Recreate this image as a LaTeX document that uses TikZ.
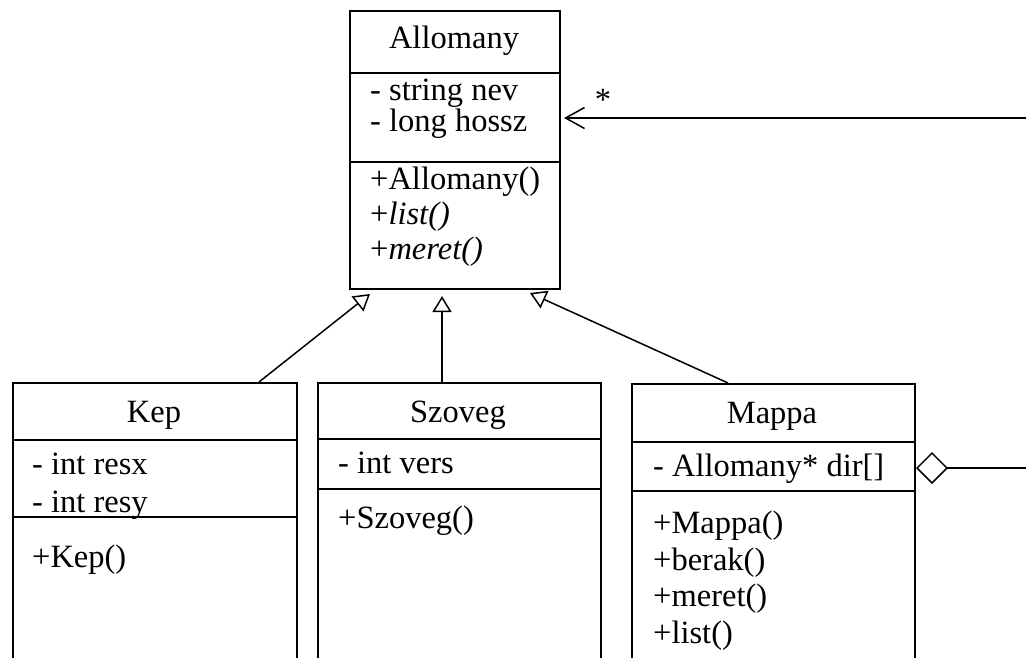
\documentclass[tikz,border=0pt]{standalone}
\usepackage{fontspec}
\setmainfont{Liberation Serif}
\usetikzlibrary{arrows.meta}
\begin{document}
\begin{tikzpicture}[x=1pt,y=-1pt,
  box/.style={draw, line width=1.5pt, inner sep=0pt, anchor=north west},
  divider/.style={line width=1.5pt},
  txt/.style={anchor=base west, inner sep=0pt, font=\fontsize{32.5}{38}\selectfont},
  ttl/.style={anchor=base, inner sep=0pt, font=\fontsize{32.5}{38}\selectfont},
  conn/.style={line width=1.5pt},
  inh/.style={conn, -{Triangle[open, length=16pt, width=19pt, line width=1.5pt]}},
  assoc/.style={conn, -{Straight Barb[length=19pt, width=21pt, line width=1.5pt]}},
  aggr/.style={conn, {Diamond[open, length=32pt, width=32pt, line width=1.5pt]}-}
]
\useasboundingbox (0,0) rectangle (1026,657);
\clip (0,0) rectangle (1026,657);

% ---------- Allomany ----------
\node[box, minimum width=210pt, minimum height=278pt] (allomany) at (349,10) {};
\draw[divider] (349,73) -- (559,73);
\draw[divider] (349,162) -- (559,162);
\node[ttl] (allomanyT) at (454,48) {Allomany};
\node[txt, text depth=0pt] (a1) at (370,100) {- string nev};
\node[txt] (a2) at (370,131) {- long hossz};
\node[txt] (a3) at (370,189) {+Allomany()};
\node[txt] (a4) at (370,224) {+\textit{list()}};
\node[txt] (a5) at (370,259) {+\textit{meret()}};

% ---------- Kep ----------
\node[box, minimum width=284pt, minimum height=320pt] (kep) at (12,382) {};
\draw[divider] (12,440) -- (296,440);
\draw[divider] (12,517) -- (296,517);
\node[ttl] (kepT) at (154,422) {Kep};
\node[txt] (k1) at (32,474) {- int resx};
\node[txt] (k2) at (32,512) {- int resy};
\node[txt] (k3) at (32,567) {+Kep()};

% ---------- Szoveg ----------
\node[box, minimum width=283pt, minimum height=320pt] (szoveg) at (317,382) {};
\draw[divider] (317,439) -- (600,439);
\draw[divider] (317,489) -- (600,489);
\node[ttl] (szovegT) at (458,422) {Szoveg};
\node[txt] (s1) at (338,473) {- int vers};
\node[txt] (s2) at (338,528) {+Szoveg()};

% ---------- Mappa ----------
\node[box, minimum width=283pt, minimum height=320pt] (mappa) at (631,383) {};
\draw[divider] (631,442) -- (914,442);
\draw[divider] (631,491) -- (914,491);
\node[ttl] (mappaT) at (772,423) {Mappa};
\node[txt] (m1) at (653,476) {- Allomany* dir[]};
\node[txt] (m2) at (653,533) {+Mappa()};
\node[txt] (m3) at (653,570) {+berak()};
\node[txt] (m4) at (653,606) {+meret()};
\node[txt] (m5) at (653,643) {+list()};

% ---------- connectors ----------
\coordinate (kepTop) at (259,382);
\coordinate (kepTip) at (370,294);
\coordinate (szTop) at (442,382);
\coordinate (szTip) at (442,296);
\coordinate (mapTop) at (728,383);
\coordinate (mapTip) at (530,293);
\draw[inh] (kepTop) -- (kepTip);
\draw[inh] (szTop) -- (szTip);
\draw[inh] (mapTop) -- (mapTip);

\coordinate (assocFar) at (1040,118);
\coordinate (assocTip) at (564,118);
\draw[assoc] (assocFar) -- (assocTip);
\node[ttl] (star) at (603,110) {*};

\coordinate (aggrTip) at (916,468);
\coordinate (aggrFar) at (1040,468);
\draw[aggr] (aggrTip) -- (aggrFar);
\end{tikzpicture}
\end{document}
